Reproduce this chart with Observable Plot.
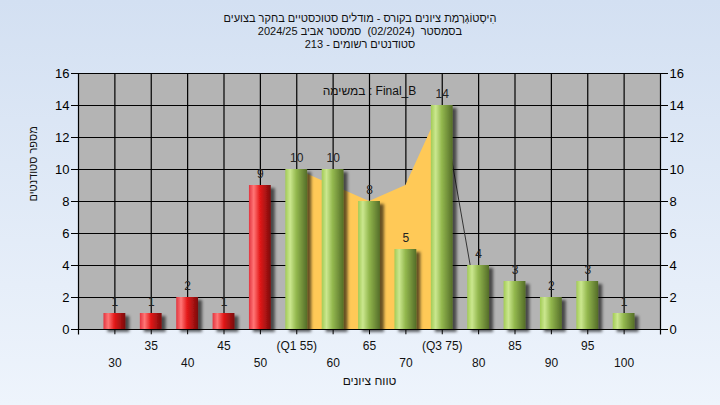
<!DOCTYPE html>
<html><head><meta charset="utf-8">
<script src="https://cdn.jsdelivr.net/npm/d3@7"></script>
<script src="https://cdn.jsdelivr.net/npm/@observablehq/plot@0.6"></script>
<style>
html,body{margin:0;padding:0;width:720px;height:405px;overflow:hidden;}
body{background:linear-gradient(#d3e0f2,#eef4fc);font-family:"Liberation Sans",Arial,sans-serif;}
#title{height:50px;box-sizing:border-box;padding-top:12px;text-align:center;font-size:11px;line-height:13px;color:#111;direction:rtl;white-space:pre;}
g[aria-label^="y-axis"] text{font-size:13px;}
</style></head><body>
<svg width="0" height="0" style="position:absolute"><defs>
<linearGradient id="gRed" x1="0" x2="1" y1="0" y2="0">
 <stop offset="0" stop-color="#e2343f"/><stop offset="0.22" stop-color="#ff7676"/><stop offset="0.5" stop-color="#e41a1a"/><stop offset="1" stop-color="#7a0c0c"/>
</linearGradient>
<linearGradient id="gGreen" x1="0" x2="1" y1="0" y2="0">
 <stop offset="0" stop-color="#a2cb56"/><stop offset="0.22" stop-color="#cbe78f"/><stop offset="0.5" stop-color="#93b84e"/><stop offset="1" stop-color="#546d28"/>
</linearGradient>
<filter id="shadow" x="-20%" y="-20%" width="150%" height="150%"><feDropShadow dx="4" dy="3" stdDeviation="1.6" flood-color="#000" flood-opacity="0.6"/></filter>
</defs></svg>
<div id="title"></div>
<div id="chart"></div>
<script>
const titleLines = [
  "הִיסְטוֹגְרָמַת ציונים בקורס - מודלים סטוכסטיים בחקר בצועים",
  "בסמסטר  (02/2024)  סמסטר אביב 2024/25",
  "סטודנטים רשומים - 213"
];
const taskLabel = "במשימה : Final_B";
const xTitle = "טווח ציונים";
const yTitle = "מספר סטודנטים";
const categories = [30,35,40,45,50,55,60,65,70,75,80,85,90,95,100];
const counts =     [1, 1, 2, 1, 9, 10,10,8, 5, 14,4, 3, 2, 3, 1];
const tickLabels = ["30","35","40","45","50","(Q1 55)","60","65","70","(Q3 75)","80","85","90","95","100"];
const passMark = 55;
const iqrX = [55,60,65,70,75];
const iqrValues = [10,9,8,9,14];
const lineX = [75,80];
const lineValues = [14,1];
const yTicks = [0,2,4,6,8,10,12,14,16];

document.getElementById("title").innerHTML = titleLines.map(t => `<div>${t}</div>`).join("");

const bars = categories.map((c,i) => ({x:c, count:counts[i], label:tickLabels[i], row:i%2}));
const iqr = iqrX.map((x,i) => ({x, y:iqrValues[i]}));
const line = lineX.map((x,i) => ({x, y:lineValues[i]}));
const halfW = 1.5;

const chart = Plot.plot({
  width:720, height:355,
  marginTop:23, marginBottom:76, marginLeft:78, marginRight:60,
  style:{background:"transparent", fontFamily:"'Liberation Sans',Arial,sans-serif", fontSize:"12px", color:"#000", overflow:"visible"},
  x:{domain:[25,105], axis:null},
  y:{domain:[0,16], ticks:yTicks, axis:"both", tickSize:7, tickPadding:2, label:null},
  marks:[
    Plot.frame({fill:"#b4b4b4", stroke:null}),
    Plot.ruleY(yTicks.filter(d=>d>0), {stroke:"#000", strokeWidth:1.2}),
    Plot.ruleX(categories, {stroke:"#000", strokeWidth:1.2}),
    Plot.areaY(iqr, {x:"x", y:"y", fill:"#ffc957"}),
    Plot.line(line, {x:"x", y:"y", stroke:"#333", strokeWidth:1}),
    Plot.rectY(bars.filter(d=>d.x<passMark), {x1:d=>d.x-halfW, x2:d=>d.x+halfW, y1:0, y2:"count", fill:"url(#gRed)"}),
    Plot.rectY(bars.filter(d=>d.x>=passMark), {x1:d=>d.x-halfW, x2:d=>d.x+halfW, y1:0, y2:"count", fill:"url(#gGreen)"}),
    Plot.text(bars, {x:"x", y:"count", text:d=>String(d.count), dy:-11, fontSize:12, fill:"#222"}),
    Plot.ruleX([25,105], {y1:-0.35, y2:16, stroke:"#000", strokeWidth:1.2}),
    Plot.ruleY([0], {x1:24.6, x2:105.6, stroke:"#000", strokeWidth:1.2}),
    Plot.ruleX(categories, {y1:-0.33, y2:0, stroke:"#000"}),
    Plot.text(bars.filter(d=>d.row===1), {x:"x", text:"label", frameAnchor:"bottom", dy:20, fontSize:12, fill:"#111"}),
    Plot.text(bars.filter(d=>d.row===0), {x:"x", text:"label", frameAnchor:"bottom", dy:37, fontSize:12, fill:"#111"}),
    Plot.text([xTitle], {text:d=>d, frameAnchor:"bottom", dy:55, fontSize:12, fill:"#111"}),
    Plot.text([yTitle], {text:d=>d, frameAnchor:"left", dx:-45, rotate:-90, fontSize:11, fill:"#111"}),
    Plot.text([taskLabel], {text:d=>d, frameAnchor:"top", dy:13, fontSize:12, fill:"#111"})
  ]
});
d3.select(chart).selectAll('g[aria-label="rect"]').attr("filter","url(#shadow)");
document.getElementById("chart").appendChild(chart);
</script>
</body></html>
